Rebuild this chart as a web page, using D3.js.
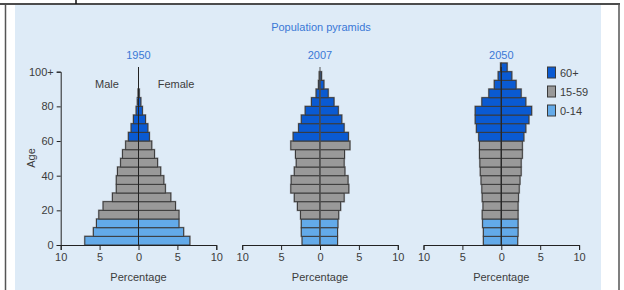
<!DOCTYPE html>
<html>
<head>
<meta charset="utf-8">
<script src="https://cdn.jsdelivr.net/npm/d3@7"></script>
<style>
  body { margin: 0; background: #fff; }
  svg { display: block; }
  svg text { font-family: "Liberation Sans", Arial, sans-serif; }
</style>
</head>
<body>
<svg id="chart" width="624" height="290"></svg>
<script>
// age bands 0-4 ... 100+
const ageGroups = ["0-4","5-9","10-14","15-19","20-24","25-29","30-34","35-39","40-44","45-49",
  "50-54","55-59","60-64","65-69","70-74","75-79","80-84","85-89","90-94","95-99","100+"];
const years = ["1950", "2007", "2050"];

const male1950   = [6.9,5.8,5.4,5.1,4.55,3.35,2.85,2.85,2.7,2.3,2.05,1.65,1.3,0.95,0.65,0.3,0.15,0.05,0,0,0];
const female1950 = [6.6,5.8,5.2,5.2,4.75,4.15,3.45,3.25,2.85,2.45,2.05,1.7,1.4,1.2,0.9,0.5,0.3,0.1,0,0,0];
const male2007   = [2.3,2.4,2.4,2.5,2.9,3.3,3.75,3.7,3.3,3.05,3.15,3.75,3.45,2.75,2.4,1.9,1.1,0.5,0.2,0.1,0];
const female2007 = [2.25,2.25,2.3,2.4,2.65,3.1,3.7,3.6,3.2,3.1,3.15,3.85,3.65,3.1,2.8,2.35,1.8,1.05,0.5,0.2,0];
const male2050   = [2.3,2.3,2.4,2.45,2.35,2.45,2.5,2.6,2.7,2.75,2.8,2.8,2.9,3.2,3.35,3.35,2.5,1.6,0.9,0.4,0.1];
const female2050 = [2.1,2.15,2.15,2.15,2.15,2.2,2.3,2.4,2.55,2.55,2.7,2.7,2.9,3.15,3.55,3.9,3.15,2.55,1.9,1.35,0.75];

const legendLabels = ["60+", "15-59", "0-14"];
const legendColors = ["#0a5ad2", "#999999", "#63aae9"];
const xTicks = [-10, -5, 0, 5, 10];
const yTicks = [0, 20, 40, 60, 80, 100];

const maleData = [male1950, male2007, male2050];
const femaleData = [female1950, female2007, female2050];

function groupColor(i) {
  if (i >= 12) return legendColors[0];
  if (i >= 3) return legendColors[1];
  return legendColors[2];
}

const svg = d3.select("#chart");

// frame + background
svg.append("rect").attr("x", 15).attr("y", 5).attr("width", 586).attr("height", 285).attr("fill", "#deebf7");
svg.append("line").attr("x1", 0).attr("x2", 620).attr("y1", 4).attr("y2", 4).attr("stroke", "#111").attr("stroke-width", 1.5);
svg.append("line").attr("x1", 5.5).attr("x2", 5.5).attr("y1", 5).attr("y2", 290).attr("stroke", "#555").attr("stroke-width", 1.5);
svg.append("line").attr("x1", 619).attr("x2", 619).attr("y1", 4).attr("y2", 290).attr("stroke", "#555").attr("stroke-width", 1.5);
svg.append("line").attr("x1", 76).attr("x2", 76).attr("y1", 0).attr("y2", 4).attr("stroke", "#111").attr("stroke-width", 1.5);

svg.append("text").attr("x", 321).attr("y", 31).attr("text-anchor", "middle")
  .attr("font-size", 11).attr("fill", "#3a78d6").text("Population pyramids");

const y = d3.scaleLinear().domain([0, 100]).range([245, 71.7]);
const centers = [138.5, 320, 501.3];
const halfW = 77.8;

years.forEach((yr, p) => {
  const cx = centers[p];
  const x = d3.scaleLinear().domain([-10, 10]).range([cx - halfW, cx + halfW]);
  const g = svg.append("g");

  g.append("text").attr("x", cx).attr("y", 59).attr("text-anchor", "middle")
    .attr("font-size", 11).attr("fill", "#3a78d6").text(yr);

  const bars = [];
  ageGroups.forEach((a, i) => {
    bars.push({ i: i, v: -maleData[p][i] });
    bars.push({ i: i, v: femaleData[p][i] });
  });
  const shown = bars.filter(d => d.v !== 0);

  // light halo round each bar
  g.selectAll("rect.sh").data(shown).enter().append("rect")
    .attr("class", "sh")
    .attr("x", d => Math.min(x(0), x(d.v)) - 1)
    .attr("y", d => y(d.i * 5 + 5) - 1)
    .attr("width", d => Math.abs(x(d.v) - x(0)) + 2)
    .attr("height", d => y(d.i * 5) - y(d.i * 5 + 5) + 2)
    .attr("fill", "#aeb2b8");

  g.selectAll("rect.bar").data(shown).enter().append("rect")
    .attr("class", "bar")
    .attr("x", d => Math.min(x(0), x(d.v)))
    .attr("y", d => y(d.i * 5 + 5))
    .attr("width", d => Math.abs(x(d.v) - x(0)))
    .attr("height", d => y(d.i * 5) - y(d.i * 5 + 5))
    .attr("fill", d => groupColor(d.i))
    .attr("stroke", "#3a3a3a")
    .attr("stroke-width", 1);

  // centre line
  g.append("line").attr("x1", x(0)).attr("x2", x(0)).attr("y1", 67).attr("y2", 245)
    .attr("stroke", p === 1 ? "#555" : "#222").attr("stroke-width", 1);

  const xAxis = g.append("g").attr("transform", "translate(0,245)")
    .call(d3.axisBottom(x).tickValues(xTicks).tickFormat(d => Math.abs(d)).tickSizeOuter(0).tickSize(5).tickPadding(3));
  xAxis.attr("font-family", null);
  xAxis.select(".domain").attr("stroke", "#222");
  xAxis.selectAll(".tick line").attr("stroke", "#222");
  xAxis.selectAll("text").attr("font-size", 11).attr("fill", "#3c3c3c");

  g.append("text").attr("x", cx).attr("y", 281).attr("text-anchor", "middle")
    .attr("font-size", 11).attr("fill", "#3c3c3c").text("Percentage");

  if (p === 0) {
    const yAxis = g.append("g").attr("transform", "translate(" + (cx - halfW) + ",0)")
      .call(d3.axisLeft(y).tickValues(yTicks).tickFormat(d => d === 100 ? "100+" : d).tickSizeOuter(0).tickSize(4).tickPadding(3));
    yAxis.attr("font-family", null);
    yAxis.select(".domain").attr("stroke", "#222");
    yAxis.selectAll(".tick line").attr("stroke", "#222");
    yAxis.selectAll("text").attr("font-size", 11).attr("fill", "#3c3c3c");

    g.append("text").attr("transform", "translate(35,158) rotate(-90)").attr("text-anchor", "middle")
      .attr("font-size", 11).attr("fill", "#3c3c3c").text("Age");
    g.append("text").attr("x", 107).attr("y", 88).attr("text-anchor", "middle")
      .attr("font-size", 11).attr("fill", "#3c3c3c").text("Male");
    g.append("text").attr("x", 176).attr("y", 88).attr("text-anchor", "middle")
      .attr("font-size", 11).attr("fill", "#3c3c3c").text("Female");
  }
});

// legend
const lg = svg.append("g");
legendLabels.forEach((l, i) => {
  lg.append("rect").attr("x", 547.5).attr("y", 67 + i * 19).attr("width", 8).attr("height", 11)
    .attr("fill", legendColors[i]).attr("stroke", "#3a3a3a").attr("stroke-width", 1);
  lg.append("text").attr("x", 560).attr("y", 76.5 + i * 19)
    .attr("font-size", 11).attr("fill", "#3c3c3c").text(l);
});
</script>
</body>
</html>
